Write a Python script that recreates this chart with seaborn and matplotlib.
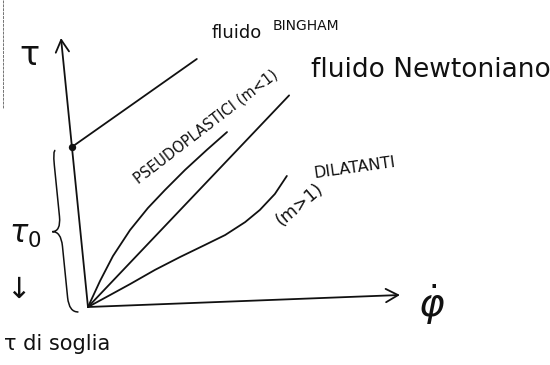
import matplotlib
matplotlib.use("Agg")
import matplotlib.pyplot as plt
from matplotlib.path import Path
from matplotlib.patches import PathPatch
from matplotlib.transforms import Affine2D
import seaborn as sns

# Shear rate (phi dot) and shear stress (tau), arbitrary units
newton_rate = [0.0, 7.1]
newton_stress = [0.0, 7.55]

pseudo_rate = [0.0, 0.47, 0.96, 1.59, 2.23, 2.83, 3.54, 4.3, 5.0]
pseudo_stress = [0.0, 0.95, 1.85, 2.79, 3.58, 4.22, 4.94, 5.65, 6.28]

dilat_rate = [0.0, 0.74, 1.42, 2.26, 3.1, 3.93, 4.61, 5.29, 5.8, 6.33, 6.77]
dilat_stress = [0.0, 0.41, 0.79, 1.28, 1.72, 2.13, 2.47, 2.92, 3.35, 3.92, 4.57]

bingham_rate = [0.0, 4.27]
bingham_stress = [5.95, 9.03]
tau0 = 5.95

rate_max = 10.0
stress_max = 10.0

sns.set_theme(style="white")
plt.rcParams["font.family"] = ["DejaVu Sans"]

INK = "#111111"
LW = 1.3

fig = plt.figure(figsize=(5.5, 3.65), dpi=100)
ax = fig.add_axes([0, 0, 1, 1])
ax.set_xlim(-2.82, 14.81)
ax.set_ylim(-2.156, 11.413)
ax.axis("off")

# hand-drawn axes are not quite orthogonal: shear the data frame slightly
skew = Affine2D.from_values(1.0, 0.0446, -0.0865, 1.0, 0.0, 0.0)
tr = skew + ax.transData

# axes with arrow heads
arrow_kw = dict(arrowstyle="->,head_length=0.55,head_width=0.3", lw=LW,
                color=INK, shrinkA=0, shrinkB=0, mutation_scale=16)
ax.annotate("", xy=(rate_max, 0), xytext=(0, 0), xycoords=tr,
            textcoords=tr, arrowprops=arrow_kw)
ax.annotate("", xy=(0, stress_max), xytext=(0, 0), xycoords=tr,
            textcoords=tr, arrowprops=arrow_kw)

# rheological curves
for rate, stress in [(newton_rate, newton_stress),
                     (pseudo_rate, pseudo_stress),
                     (dilat_rate, dilat_stress),
                     (bingham_rate, bingham_stress)]:
    sns.lineplot(x=rate, y=stress, ax=ax, color=INK, lw=LW,
                 sort=False, estimator=None, transform=tr)

# yield stress point
sns.scatterplot(x=[bingham_rate[0]], y=[tau0], ax=ax, color=INK, s=28,
                edgecolor=INK, linewidth=0, transform=tr, zorder=5)

# curly brace spanning the yield stress
def brace(u0, v_bot, v_top, depth, curl, hook_top, hook_bot):
    vm = 0.5 * (v_bot + v_top)
    verts = [(u0 + hook_top, v_top), (u0, v_top), (u0, v_top - curl),
             (u0, vm + curl),
             (u0, vm), (u0 - depth, vm),
             (u0, vm), (u0, vm - curl),
             (u0, v_bot + curl),
             (u0, v_bot), (u0 + hook_bot, v_bot)]
    codes = [Path.MOVETO, Path.CURVE3, Path.CURVE3, Path.LINETO,
             Path.CURVE3, Path.CURVE3, Path.CURVE3, Path.CURVE3,
             Path.LINETO, Path.CURVE3, Path.CURVE3]
    return Path(verts, codes)

ax.add_patch(PathPatch(brace(-0.62, -0.17, tau0 - 0.1, 0.28, 0.55, 0.08, 0.3),
                       transform=tr, fill=False, lw=1.1, color=INK))

# labels
T = ax.transAxes
ax.text(0.053, 0.849, "τ", transform=T, fontsize=24, ha="center",
        va="center", color=INK)
ax.text(0.385, 0.895, "fluido", transform=T, fontsize=13, ha="left",
        va="baseline", color=INK)
ax.text(0.496, 0.918, "BINGHAM", transform=T, fontsize=10, ha="left",
        va="baseline", color=INK)
ax.text(0.565, 0.79, "fluido Newtoniano", transform=T, fontsize=19,
        ha="left", va="baseline", color=INK)
ax.text(0.375, 0.652, "PSEUDOPLASTICI (m<1)", transform=T, fontsize=10.5,
        ha="center", va="center", rotation=37.5, rotation_mode="anchor",
        color=INK)
ax.text(0.645, 0.54, "DILATANTI", transform=T, fontsize=11.5, ha="center",
        va="center", rotation=8, rotation_mode="anchor", color=INK)
ax.text(0.545, 0.44, "(m>1)", transform=T, fontsize=12.5, ha="center",
        va="center", rotation=40, rotation_mode="anchor", color=INK)
ax.text(0.785, 0.165, r"$\dot{\varphi}$", transform=T, fontsize=28,
        ha="center", va="center", color=INK)
ax.text(0.045, 0.355, r"$\tau_0$", transform=T, fontsize=22, ha="center",
        va="center", color=INK)
ax.text(0.033, 0.205, "↓", transform=T, fontsize=21, ha="center",
        va="center", color=INK)
ax.text(0.008, 0.04, "τ di soglia", transform=T, fontsize=15, ha="left",
        va="baseline", color=INK)

# page edge
ax.plot([0.005, 0.005], [1.0, 0.705], transform=T, color="0.45", lw=0.7,
        ls=(0, (3, 1)))

fig.savefig("out.png", dpi=100, facecolor="white")
